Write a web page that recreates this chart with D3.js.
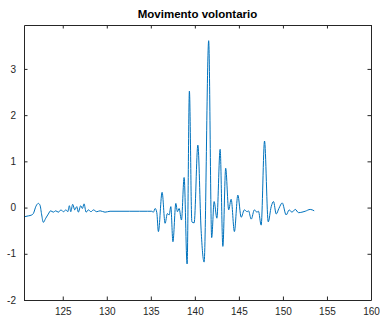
<!DOCTYPE html>
<html>
<head>
<meta charset="utf-8">
<script src="https://cdn.jsdelivr.net/npm/d3@7"></script>
<style>
  html, body { margin: 0; padding: 0; background: #fff; }
  svg { display: block; font-family: "Liberation Sans", Arial, sans-serif; }
</style>
</head>
<body>
<div id="chart"></div>
<script>
// time (s) and signal
const tempo = [
  120.60, 121.09, 121.48, 121.66, 121.96, 122.23, 122.42, 122.61, 122.79, 123.07,
  123.36, 123.63, 123.93, 124.20, 124.50, 124.80, 125.07, 125.37, 125.57, 125.75,
  125.91, 126.13, 126.36, 126.59, 126.77, 127.04, 127.23, 127.42, 127.65, 127.91,
  128.21, 128.48, 128.86, 129.24, 129.80, 130.37, 131.50, 132.60, 133.70, 134.60,
  135.11, 135.29, 135.49, 135.68, 135.86, 136.28, 136.62, 136.88, 137.08, 137.27,
  137.51, 137.84, 138.02, 138.21, 138.48, 138.78, 139.12, 139.38, 139.66, 139.92,
  140.34, 140.71, 141.05, 141.57, 141.91, 142.19, 142.50, 142.87, 143.18, 143.50,
  143.84, 144.12, 144.49, 144.88, 145.26, 145.62, 145.94, 146.09, 146.40, 146.76,
  147.04, 147.22, 147.53, 147.91, 148.33, 148.67, 148.93, 149.24, 149.54, 149.92,
  150.37, 150.71, 151.02, 151.40, 151.77, 152.16, 152.53, 153.10, 153.55
];
const segnale = [
  -0.20, -0.18, -0.16, -0.13, 0.03, 0.09, 0.05, -0.16, -0.32, -0.23,
  -0.14, -0.07, -0.10, -0.07, -0.10, -0.05, -0.09, -0.05, -0.09, 0.04,
  -0.09, 0.07, -0.05, 0.02, -0.10, 0.04, -0.02, 0.08, -0.10, -0.05,
  -0.09, -0.05, -0.09, -0.07, -0.10, -0.08, -0.08, -0.08, -0.08, -0.08,
  -0.08, -0.10, -0.02, -0.11, -0.52, 0.33, -0.34, -0.13, -0.16, 0.02,
  -0.74, 0.09, -0.09, -0.02, -0.27, 0.65, -1.22, 2.52, -0.31, -0.33,
  1.35, -0.49, -1.18, 3.61, -0.65, 0.13, -0.23, 1.26, -0.84, 0.85,
  -0.05, 0.18, -0.52, 0.27, -0.21, -0.05, -0.09, -0.07, -0.25, -0.05,
  -0.10, -0.08, -0.38, 1.44, -0.31, 0.02, 0.13, -0.14, -0.02, 0.10,
  -0.16, -0.05, -0.10, -0.04, -0.11, -0.10, -0.08, -0.04, -0.07
];
const xTicks = [125, 130, 135, 140, 145, 150, 155, 160];
const yTicks = [-2, -1, 0, 1, 2, 3];
const titolo = 'Movimento volontario';

const width = 380;
const height = 322;
const margin = { top: 25, right: 9, bottom: 22, left: 24 };
const axisColor = '#262626';
const tickLen = 3.5;

const data = tempo.map((t, i) => ({ t, v: segnale[i] }));

const svg = d3.select('#chart')
  .append('svg')
  .attr('width', width)
  .attr('height', height);

const x = d3.scaleLinear()
  .domain([120.6, 160])
  .range([margin.left, width - margin.right]);

const y = d3.scaleLinear()
  .domain([-2, 3.95])
  .range([height - margin.bottom, margin.top]);

// the curve
const line = d3.line()
  .x(d => x(d.t))
  .y(d => y(d.v))
  .curve(d3.curveMonotoneX);

svg.append('path')
  .datum(data)
  .attr('fill', 'none')
  .attr('stroke', '#0072BD')
  .attr('stroke-width', 1)
  .attr('stroke-linejoin', 'round')
  .attr('d', line);

// plain hyphen for negatives, like the reference
const plain = d => String(d);

// axes, with inward ticks on all four sides
const styleAxis = g => {
  g.select('.domain').attr('stroke', axisColor);
  g.selectAll('.tick line').attr('stroke', axisColor);
  g.selectAll('.tick text')
    .attr('fill', axisColor)
    .style('font-size', '10px');
};

svg.append('g')
  .attr('transform', `translate(0, ${height - margin.bottom})`)
  .call(d3.axisBottom(x).tickValues(xTicks).tickSize(-tickLen).tickSizeOuter(0).tickPadding(8).tickFormat(plain))
  .call(styleAxis);

svg.append('g')
  .attr('transform', `translate(0, ${margin.top})`)
  .call(d3.axisTop(x).tickValues(xTicks).tickSize(-tickLen).tickSizeOuter(0).tickFormat(''))
  .call(styleAxis);

svg.append('g')
  .attr('transform', `translate(${margin.left}, 0)`)
  .call(d3.axisLeft(y).tickValues(yTicks).tickSize(-tickLen).tickSizeOuter(0).tickPadding(8).tickFormat(plain))
  .call(styleAxis);

svg.append('g')
  .attr('transform', `translate(${width - margin.right}, 0)`)
  .call(d3.axisRight(y).tickValues(yTicks).tickSize(-tickLen).tickSizeOuter(0).tickFormat(''))
  .call(styleAxis);

svg.append('text')
  .attr('x', (margin.left + width - margin.right) / 2)
  .attr('y', 18)
  .attr('text-anchor', 'middle')
  .attr('fill', '#000')
  .style('font-size', '11.5px')
  .style('font-weight', 'bold')
  .text(titolo);
</script>
</body>
</html>
